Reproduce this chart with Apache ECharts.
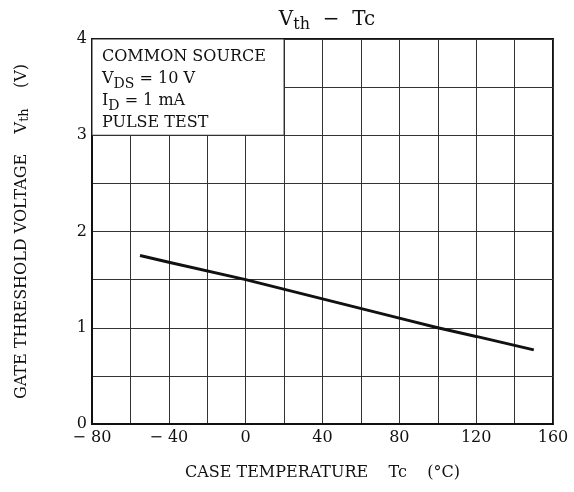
<!DOCTYPE html>
<html>
<head>
<meta charset="utf-8">
<script src="https://cdn.jsdelivr.net/npm/echarts@6/dist/echarts.min.js"></script>
<style>
  html, body { margin: 0; padding: 0; background: #fff; }
  #chart { width: 574px; height: 492px; }
</style>
</head>
<body>
<div id="chart"></div>
<script>
// Vth - Tc curve
var caseTemp = [-55, -40, 0, 40, 80, 100, 120, 150];
var vth = [1.75, 1.68, 1.5, 1.3, 1.1, 1.0, 0.91, 0.77];

// axis ranges, grid steps and labelled steps
var xRange = [-80, 160];
var xStep = 20;
var xLabelStep = 40;
var yRange = [0, 4];
var yStep = 0.5;
var yLabelStep = 1;

// white box holding the test conditions (data coords)
var noteFrom = [-80, 4];
var noteTo = [20, 3];
var noteText = '{n|COMMON SOURCE}\n{n|V}{s|DS}{n| = 10 V}\n{n|I}{s|D}{n| = 1 mA}\n{n|PULSE TEST}';

var serif = '"DejaVu Serif", "Liberation Serif", serif';

var chart = echarts.init(document.getElementById('chart'));

function onStep(v, step) {
  return Math.abs(v / step - Math.round(v / step)) < 1e-6;
}

var option = {
  backgroundColor: '#fff',
  animation: false,
  title: {
    text: '{n|V}{s|th}{n|  −  Tc}',
    left: 322,
    textAlign: 'center',
    top: 5,
    textStyle: {
      fontWeight: 'normal',
      rich: {
        n: { fontFamily: serif, fontSize: 20, color: '#111', verticalAlign: 'top', lineHeight: 24 },
        s: { fontFamily: serif, fontSize: 16, color: '#111', verticalAlign: 'top', lineHeight: 24, padding: [7, 0, 0, 0] }
      }
    }
  },
  grid: {
    left: 92,
    right: 21,
    top: 39,
    bottom: 68,
    show: true,
    borderColor: '#111',
    borderWidth: 2,
    backgroundColor: 'transparent'
  },
  xAxis: {
    type: 'value',
    min: xRange[0],
    max: xRange[1],
    interval: xStep,
    name: 'CASE TEMPERATURE    Tc    (°C)',
    nameLocation: 'middle',
    nameGap: 41,
    nameTextStyle: { fontFamily: serif, fontSize: 16, color: '#111' },
    axisLine: { show: true, onZero: false, lineStyle: { color: '#111', width: 2 } },
    axisTick: { show: false },
    axisLabel: {
      margin: 6,
      fontFamily: serif,
      fontSize: 16,
      color: '#111',
      formatter: function (v) {
        if (!onStep(v, xLabelStep)) return '';
        return v < 0 ? '− ' + Math.abs(v) : String(v);
      }
    },
    splitLine: { show: true, lineStyle: { color: '#333', width: 1 } }
  },
  yAxis: {
    type: 'value',
    min: yRange[0],
    max: yRange[1],
    interval: yStep,
    name: 'GATE THRESHOLD VOLTAGE    {n|V}{s|th}    (V)',
    nameLocation: 'middle',
    nameGap: 62,
    nameTextStyle: {
      fontFamily: serif,
      fontSize: 16,
      color: '#111',
      rich: {
        n: { fontFamily: serif, fontSize: 16, color: '#111' },
        s: { fontFamily: serif, fontSize: 13, color: '#111', padding: [0, 0, -6, 0] }
      }
    },
    axisLine: { show: true, onZero: false, lineStyle: { color: '#111', width: 2 } },
    axisTick: { show: false },
    axisLabel: {
      margin: 5,
      fontFamily: serif,
      fontSize: 16,
      color: '#111',
      formatter: function (v) { return onStep(v, yLabelStep) ? String(v) : ''; }
    },
    splitLine: { show: true, lineStyle: { color: '#333', width: 1 } }
  },
  series: [{
    type: 'line',
    data: caseTemp.map(function (t, i) { return [t, vth[i]]; }),
    showSymbol: false,
    symbol: 'none',
    lineStyle: { color: '#111', width: 3 },
    markArea: {
      silent: true,
      itemStyle: { color: '#fff', opacity: 1, borderColor: '#222', borderWidth: 1 },
      label: { show: false },
      data: [[{ coord: noteFrom }, { coord: noteTo }]]
    }
  }]
};

chart.setOption(option);

// conditions text, placed at the box corner through the axes
var corner = chart.convertToPixel({ gridIndex: 0 }, noteFrom);
chart.setOption({
  graphic: [{
    type: 'text',
    x: corner[0] + 10,
    y: corner[1] + 10,
    z: 10,
    style: {
      text: noteText,
      rich: {
        n: { fontFamily: serif, fontSize: 16, fill: '#111', lineHeight: 22, verticalAlign: 'top' },
        s: { fontFamily: serif, fontSize: 14, fill: '#111', lineHeight: 22, verticalAlign: 'top', padding: [6, 0, 0, 0] }
      }
    }
  }]
});
</script>
</body>
</html>
